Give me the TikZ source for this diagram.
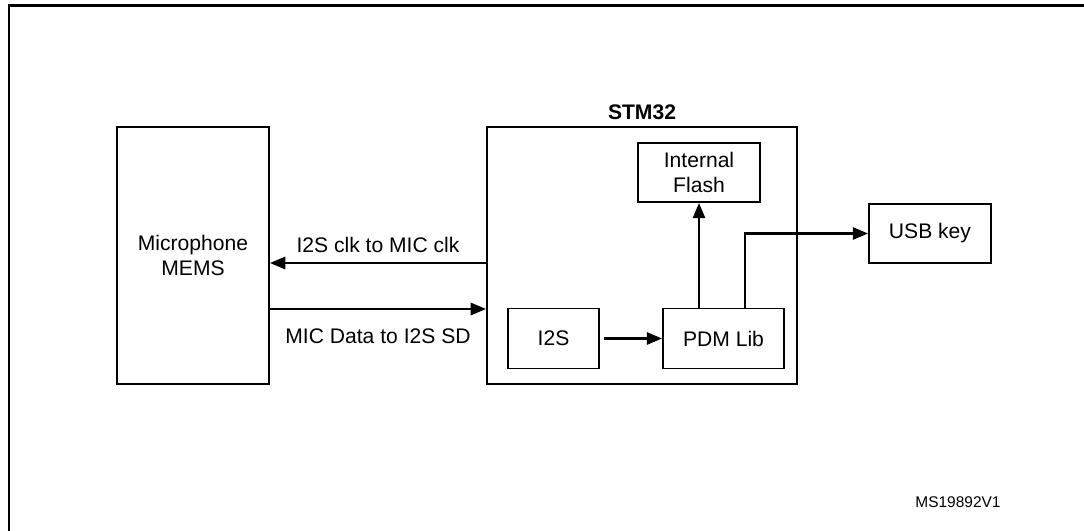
\documentclass[tikz,border=0pt]{standalone}
\usepackage{fontspec}
\setmainfont{Liberation Sans}
\usetikzlibrary{arrows.meta}

\begin{document}
\begin{tikzpicture}[x=0.025cm, y=-0.025cm,
  font=\fontsize{15}{18}\selectfont,
  box/.style={draw, line width=1.1pt, align=center, inner sep=0pt},
  conn/.style={line width=2.1pt, -{Triangle[length=11pt, width=8.5pt]}}]
\useasboundingbox (0,0) rectangle (1084,531);

% page frame
\draw[line width=1.5pt] (9,531) -- (9,5.5) -- (1084,5.5);

% blocks
\node[box, minimum width=3.8cm, minimum height=6.425cm] (mic) at (193,255.5) {Microphone\\MEMS};
\node[box, minimum width=7.75cm, minimum height=6.425cm] (stm) at (642,255.5) {};
\node[font=\fontsize{15}{18}\selectfont\bfseries] (stmname) at (642,112) {STM32};
\node[box, minimum width=3.05cm, minimum height=1.475cm] (flash) at (699,172.5) {Internal\\Flash};
\node[box, minimum width=2.275cm, minimum height=1.5cm] (i2s) at (553.5,338.5) {I2S};
\node[box, minimum width=3.025cm, minimum height=1.5cm] (pdm) at (723.5,338.5) {PDM Lib};
\node[box, minimum width=3.05cm, minimum height=1.475cm] (usb) at (930,233.5) {USB key};

\coordinate (clk) at (0,263);
\coordinate (dat) at (0,309);
\coordinate (tap) at (745,0);

% links
\draw[conn] (stm.west |- clk) -- (mic.east |- clk)
  node[midway, above=3pt] (clklabel) {I2S clk to MIC clk};
\draw[conn] (mic.east |- dat) -- (stm.west |- dat)
  node[midway, below=10pt] (datlabel) {MIC Data to I2S SD};
\draw[conn, shorten <=3pt] (i2s.east) -- (pdm.west);
\draw[conn] (flash.south |- pdm.north) -- (flash.south);
\draw[conn] (pdm.north -| tap) |- (usb.west);

\node[font=\fontsize{11}{13}\selectfont] (ref) at (958,502) {MS19892V1};
\end{tikzpicture}
\end{document}
